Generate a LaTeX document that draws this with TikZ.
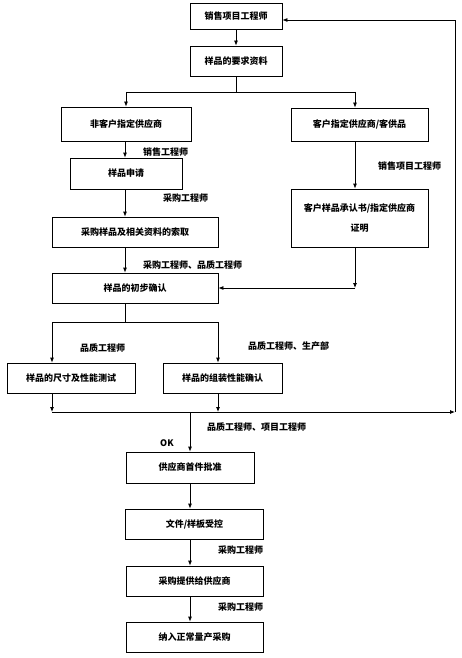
\documentclass[tikz,border=0pt]{standalone}
\usepackage{fontspec}
\setmainfont{Noto Sans CJK SC}
\usetikzlibrary{arrows.meta}
\begin{document}
\begin{tikzpicture}[x=1pt,y=-1pt,
  box/.style={draw, line width=0.8pt, inner sep=0pt, align=center,
    font=\fontsize{9}{20}\selectfont\bfseries},
  lbl/.style={anchor=west, inner sep=0pt, font=\fontsize{9}{11}\selectfont\bfseries},
  ln/.style={line width=0.8pt},
  arr/.style={line width=0.8pt, -{Latex[length=5pt,width=4pt]}}]
\useasboundingbox[fill=white] (0,0) rectangle (462,658);
% boxes
\node[box, minimum width=92pt, minimum height=26pt] (b1) at (236,16) {销售项目工程师};
\node[box, minimum width=92pt, minimum height=30pt] (b2) at (236,61) {样品的要求资料};
\node[box, minimum width=130pt, minimum height=34pt] (b3) at (126,124) {非客户指定供应商};
\node[box, minimum width=137pt, minimum height=33pt] (b4) at (359.5,124.5) {客户指定供应商/客供品};
\node[box, minimum width=112pt, minimum height=31pt] (b5) at (126,173.5) {样品申请};
\node[box, minimum width=166pt, minimum height=30pt] (b6) at (135,232) {采购样品及相关资料的索取};
\node[box, minimum width=137pt, minimum height=58pt] (b7) at (359.5,218) {客户样品承认书/指定供应商\\证明};
\node[box, minimum width=166pt, minimum height=30pt] (b8) at (135,288) {样品的初步确认};
\node[box, minimum width=128pt, minimum height=30pt] (b9) at (71,378) {样品的尺寸及性能测试};
\node[box, minimum width=119pt, minimum height=30pt] (b10) at (222.5,378) {样品的组装性能确认};
\node[box, minimum width=128pt, minimum height=31pt] (b11) at (190,467.5) {供应商首件批准};
\node[box, minimum width=138pt, minimum height=30pt] (b12) at (194.5,524) {文件/样板受控};
\node[box, minimum width=137pt, minimum height=30pt] (b13) at (194.5,581) {采购提供给供应商};
\node[box, minimum width=137pt, minimum height=30pt] (b14) at (194.5,637) {纳入正常量产采购};
% coordinates
\coordinate (s1) at (236,92);
\coordinate (s1l) at (126,92);
\coordinate (s1r) at (355,92);
\coordinate (j7) at (355,288);
\coordinate (s2) at (125,322);
\coordinate (s2l) at (52,322);
\coordinate (s2r) at (218,322);
\coordinate (m) at (190,412);
\coordinate (ml) at (52,412);
\coordinate (mr) at (455,412);
\coordinate (tr) at (455,20);
% labels
\node[lbl] (l1) at (143,152) {销售工程师};
\node[lbl] (l2) at (163,198) {采购工程师};
\node[lbl] (l3) at (378,166) {销售项目工程师};
\node[lbl] (l4) at (143,265) {采购工程师、品质工程师};
\node[lbl] (l5) at (80,348) {品质工程师};
\node[lbl] (l6) at (248,346) {品质工程师、生产部};
\node[lbl] (l7) at (207,427) {品质工程师、项目工程师};
\node[lbl] (l8) at (160,443) {OK};
\node[lbl] (l9) at (218,550) {采购工程师};
\node[lbl] (l10) at (218,607) {采购工程师};
% connectors
\draw[arr] (b1) -- (b2);
\draw[ln] (b2) -- (s1);
\draw[ln] (s1l) -- (s1r);
\draw[arr] (s1l) -- (b3.north -| s1l);
\draw[arr] (s1r) -- (b4.north -| s1r);
\draw[arr] (b3.south -| 125,0) -- (b5.north -| 125,0);
\draw[arr] (b5.south -| 125,0) -- (b6.north -| 125,0);
\draw[arr] (b6.south -| 125,0) -- (b8.north -| 125,0);
\draw[arr] (b4.south -| 355,0) -- (b7.north -| 355,0);
\draw[arr] (b7.south -| 355,0) -- (j7);
\draw[arr] (j7) -- (b8.east |- j7);
\draw[ln] (b8.south -| s2) -- (s2);
\draw[ln] (s2l) -- (s2r);
\draw[arr] (s2l) -- (b9.north -| s2l);
\draw[arr] (s2r) -- (b10.north -| s2r);
\draw[arr] (b9.south -| ml) -- (ml);
\draw[arr] (b10.south -| s2r) -- (s2r |- ml);
\draw[arr] (ml) -- (mr);
\draw[arr] (mr) -- (tr) -- (b1.east |- tr);
\draw[arr] (m) -- (b11.north -| m);
\draw[arr] (b11.south -| m) -- (b12.north -| m);
\draw[arr] (b12.south -| m) -- (b13.north -| m);
\draw[arr] (b13.south -| m) -- (b14.north -| m);
\end{tikzpicture}
\end{document}
